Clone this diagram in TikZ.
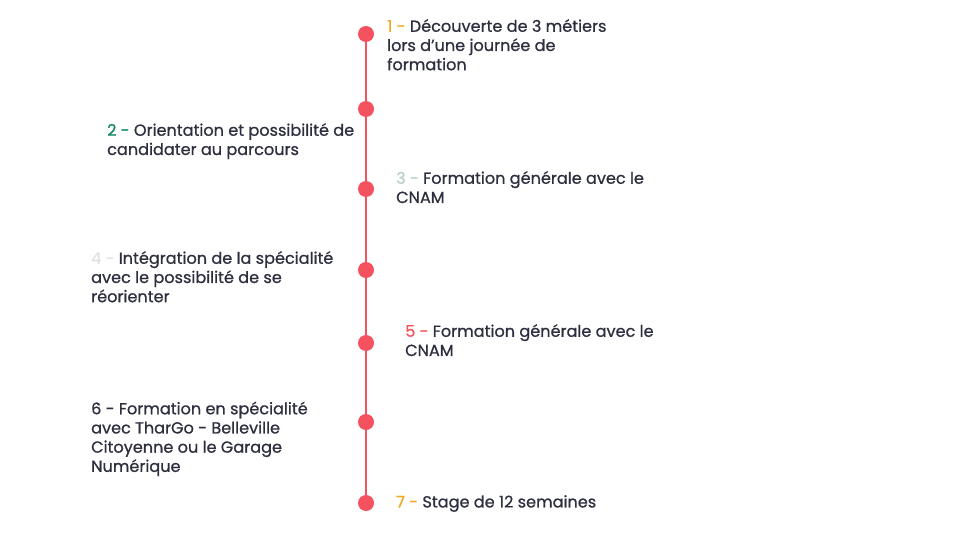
\documentclass[tikz,border=0pt]{standalone}
\usepackage{fontspec}
\setmainfont{Poppins}[FakeBold=0.8]
\definecolor{tred}{HTML}{F4525F}
\definecolor{tdark}{HTML}{2D2F3F}
\definecolor{torange}{HTML}{F7A41D}
\definecolor{tgreen}{HTML}{11875C}
\definecolor{tmint}{HTML}{B7D0C5}
\definecolor{tgrey}{HTML}{E2E2E2}
\tikzset{
  dot/.style={circle,fill=tred,minimum size=16pt,inner sep=0pt},
  label/.style={anchor=north west,inner sep=0pt,align=left,text=tdark,
    font=\fontsize{16.1}{19.2}\selectfont},
}
\begin{document}
\begin{tikzpicture}[x=1pt,y=-1pt]
\useasboundingbox (0,0) rectangle (960,540);
\coordinate (top) at (366,34);
\coordinate (bot) at (366,503);
\draw[tred,line width=2pt] (top) -- (bot);
\node[dot] (d1) at (366,34) {};
\node[dot] (d2) at (366,109) {};
\node[dot] (d3) at (366,189) {};
\node[dot] (d4) at (366,270) {};
\node[dot] (d5) at (366,343) {};
\node[dot] (d6) at (366,422) {};
\node[dot] (d7) at (366,503) {};
\node[label] (t1) at (387,19) {\textcolor{torange}{1 -} Découverte de 3 métiers\\lors d’une journée de\\formation};
\node[label] (t2) at (107,123) {\textcolor{tgreen}{2 -} Orientation et possibilité de\\candidater au parcours};
\node[label] (t3) at (396,171) {\textcolor{tmint}{3 -} Formation générale avec le\\CNAM};
\node[label] (t4) at (91,251) {\textcolor{tgrey}{4 -} Intégration de la spécialité\\avec le possibilité de se\\réorienter};
\node[label] (t5) at (405,324) {\textcolor{tred}{5 -} Formation générale avec le\\CNAM};
\node[label] (t6) at (91,401.5) {6 - Formation en spécialité\\avec TharGo - Belleville\\Citoyenne ou le Garage\\Numérique};
\node[label] (t7) at (396,495) {\textcolor{torange}{7 -} Stage de 12 semaines};
\end{tikzpicture}
\end{document}
